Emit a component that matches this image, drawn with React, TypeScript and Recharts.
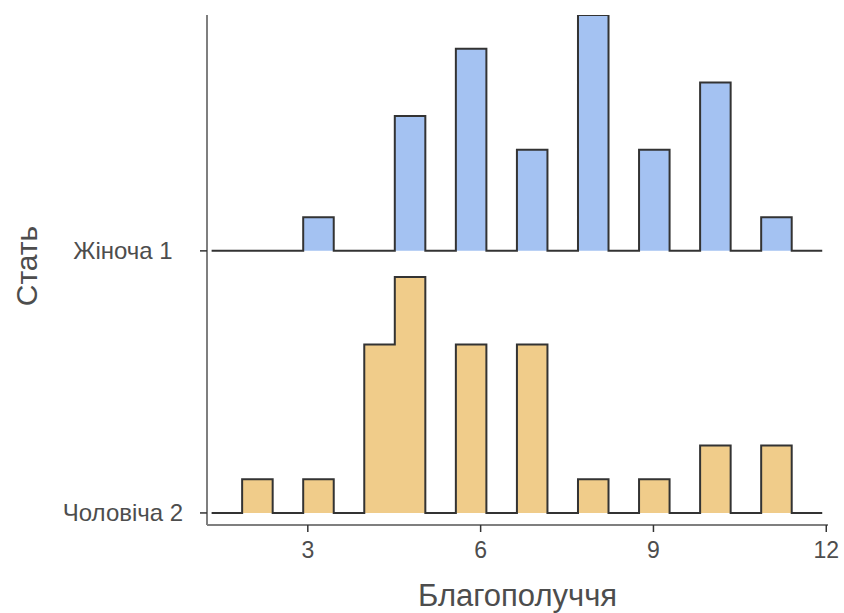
import React from 'react';
import { ComposedChart, Area, XAxis, YAxis, Label } from 'recharts';

// histogram bin edges (Благополуччя)
const binEdges = [1.33, 1.86, 2.39, 2.92, 3.45, 3.98, 4.51, 5.04, 5.57, 6.10, 6.63, 7.16, 7.69, 8.22, 8.75, 9.28, 9.81, 10.34, 10.87, 11.40, 11.93];
// counts per bin for each group
const femaleCounts = [0, 0, 0, 1, 0, 0, 4, 0, 6, 0, 3, 0, 7, 0, 3, 0, 5, 0, 1, 0];
const maleCounts = [0, 1, 0, 1, 0, 5, 7, 0, 5, 0, 5, 0, 1, 0, 1, 0, 2, 0, 2, 0];

const groupOffsets = [0, 1];
const groupLabels = ['Чоловіча 2', 'Жіноча 1'];
const xTicks = [3, 6, 9, 12];

const countScale = 0.9 / 7;
const FONT = '"Liberation Sans", Arial, sans-serif';

const chartData = binEdges.map((x, i) => ({
  x,
  female: groupOffsets[1] + (femaleCounts[i] ?? 0) * countScale,
  male: groupOffsets[0] + (maleCounts[i] ?? 0) * countScale,
}));

const YTick = (props: any) => {
  const { y, payload } = props;
  return (
    <text x={123} y={y} textAnchor="middle" dominantBaseline="central" fill="#4d4d4d" fontSize={24} fontFamily={FONT}>
      {groupLabels[payload.value]}
    </text>
  );
};

const YTitle = (props: any) => {
  const vb = props.viewBox;
  const cy = vb.y + vb.height / 2 - 4;
  return (
    <text x={26} y={cy} transform={`rotate(-90, 26, ${cy})`} textAnchor="middle" dominantBaseline="central" fill="#4d4d4d" fontSize={30} fontFamily={FONT}>
      Стать
    </text>
  );
};

const App: React.FC = () => {
  return (
    <div style={{ position: 'absolute', left: 0, top: 0, width: 844, height: 613, background: '#fff' }}>
      <ComposedChart width={844} height={613} data={chartData} margin={{ top: 15, right: 16, left: 0, bottom: 0 }}>
        <XAxis
          type="number"
          dataKey="x"
          domain={[1.25, 12.03]}
          ticks={xTicks}
          allowDataOverflow
          height={88}
          axisLine={{ stroke: '#7f7f7f', strokeWidth: 2 }}
          tickLine={{ stroke: '#333', strokeWidth: 1.5 }}
          tickSize={7}
          tickMargin={10}
          tick={{ fill: '#4d4d4d', fontSize: 23, fontFamily: FONT }}
        >
          <Label value="Благополуччя" position="insideBottom" offset={7} fill="#4d4d4d" fontSize={31} fontFamily={FONT} />
        </XAxis>
        <YAxis
          type="number"
          domain={[-0.046, 1.9]}
          ticks={groupOffsets}
          allowDataOverflow
          width={207}
          axisLine={{ stroke: '#7f7f7f', strokeWidth: 2 }}
          tickLine={{ stroke: '#333', strokeWidth: 1.5 }}
          tickSize={7}
          tick={<YTick />}
        >
          <Label content={<YTitle />} />
        </YAxis>
        <Area
          type="stepAfter"
          dataKey="female"
          baseValue={groupOffsets[1]}
          fill="#a4c2f2"
          fillOpacity={1}
          stroke="#333"
          strokeWidth={2}
          isAnimationActive={false}
        />
        <Area
          type="stepAfter"
          dataKey="male"
          baseValue={groupOffsets[0]}
          fill="#f0cc8a"
          fillOpacity={1}
          stroke="#333"
          strokeWidth={2}
          isAnimationActive={false}
        />
      </ComposedChart>
    </div>
  );
};

export default App;
